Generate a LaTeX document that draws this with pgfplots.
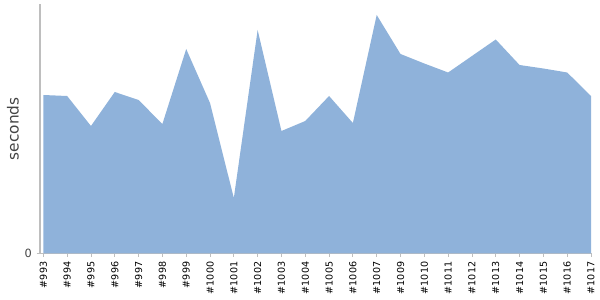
\documentclass[border=0pt]{standalone}
\usepackage{pgfplots}
\pgfplotsset{compat=1.18}
\usepackage{fontspec}
\setmainfont{DejaVu Sans}
\definecolor{areafill}{RGB}{143,178,218}
\definecolor{axgray}{RGB}{190,190,190}
\definecolor{labgray}{RGB}{68,68,68}
\begin{document}
\begin{tikzpicture}
\useasboundingbox (0,0) rectangle (450pt,225pt);
\begin{axis}[
  at={(30pt,34.875pt)}, anchor=south west,
  scale only axis,
  width=413.25pt, height=187.125pt,
  xmin=-0.14, xmax=23, ymin=0, ymax=249.5,
  axis x line=bottom, axis y line=left,
  axis line style={-, draw=axgray, line width=0.75pt},
  xtick={0,...,23},
  xticklabels={\#993,\#994,\#995,\#996,\#997,\#998,\#999,\#1000,\#1001,\#1002,\#1003,\#1004,\#1005,\#1006,\#1007,\#1009,\#1010,\#1011,\#1012,\#1013,\#1014,\#1015,\#1016,\#1017},
  xticklabel style={rotate=90, anchor=east, font=\fontsize{7.2pt}{8pt}\selectfont, text=black, inner sep=0pt},
  xticklabel shift=3.5pt,
  tick label style={/pgf/number format/assume math mode=true},
  ytick={0},
  yticklabel style={font=\fontsize{8.5pt}{10pt}\selectfont, text=labgray},
  major tick length=2.5pt,
  tick style={draw=axgray, line width=0.6pt},
  xtick align=outside, ytick align=outside,
  ylabel={seconds},
  ylabel style={font=\fontsize{11.5pt}{13pt}\selectfont, text=labgray, at={(axis description cs:-0.049,0.5)}, anchor=center},
  clip=false,
]
\addplot[fill=areafill, draw=none] coordinates {
(0,158.5) (1,157.5) (2,127.5) (3,161.5) (4,153.5) (5,129.5) (6,204.5) (7,150.5)
(8,55.5) (9,223.5) (10,122.5) (11,132.5) (12,157.5) (13,130.5) (14,238.5) (15,199.5)
(16,190) (17,181) (18,197.5) (19,214) (20,188.5) (21,185) (22,181) (23,157.5)
} \closedcycle;
\end{axis}
\end{tikzpicture}
\end{document}
